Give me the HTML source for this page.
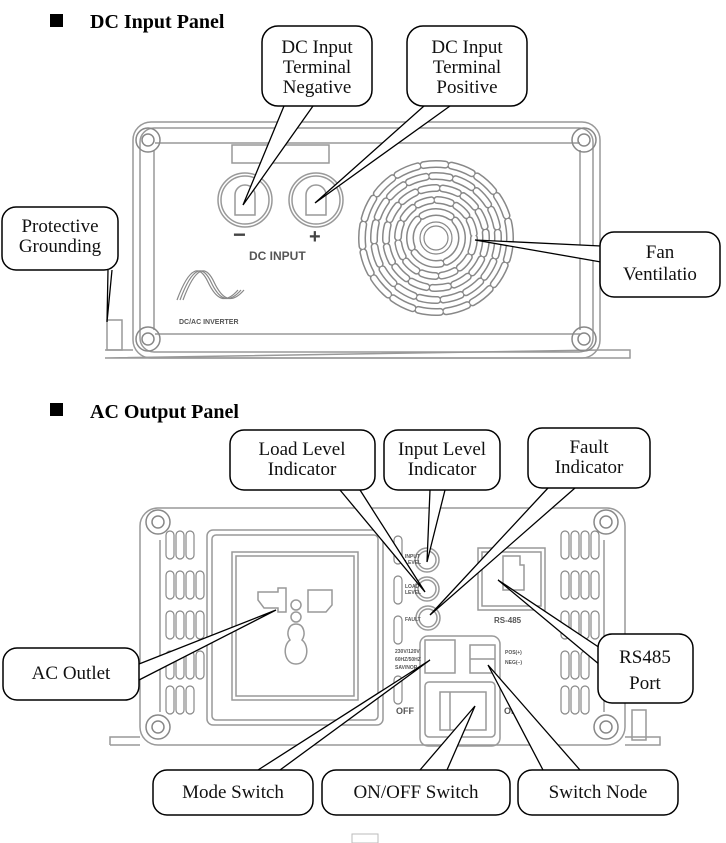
<!DOCTYPE html>
<html><head><meta charset="utf-8"><style>
html,body{margin:0;padding:0;background:#fff;}
svg{display:block;}
.t{font-family:"Liberation Serif",serif;font-size:19px;fill:#111;}
.h{font-family:"Liberation Serif",serif;font-size:20px;font-weight:bold;fill:#000;}
.s{font-family:"Liberation Sans",sans-serif;font-weight:bold;fill:#555;}
</style></head><body>
<svg width="726" height="843" viewBox="0 0 726 843" xmlns="http://www.w3.org/2000/svg">
<defs>
<g id="screw"><circle r="12" fill="none" stroke="#888" stroke-width="1.5"/><circle r="6" fill="none" stroke="#888" stroke-width="1.5"/></g>
<g id="pill"><rect x="-4" y="-14" width="8" height="28" rx="4" fill="none" stroke="#888" stroke-width="1.2"/></g>
</defs>
<rect x="50" y="14" width="13" height="13" fill="#000"/>
<text class="h" x="90" y="28">DC Input Panel</text>
<rect x="50" y="403" width="13" height="13" fill="#000"/>
<text class="h" x="90" y="418">AC Output Panel</text>

<g fill="none" stroke="#999" stroke-width="1.5">
<rect x="133" y="122" width="467" height="236" rx="18"/>
<rect x="140" y="128" width="453" height="224" rx="14"/>
<line x1="155" y1="143" x2="580" y2="143"/>
<line x1="155" y1="334" x2="580" y2="334"/>
<line x1="154" y1="150" x2="154" y2="330"/>
<line x1="580" y1="150" x2="580" y2="330"/>
<rect x="232" y="145" width="97" height="18"/>
<circle cx="245" cy="200" r="27"/><circle cx="245" cy="200" r="24"/>
<circle cx="316" cy="200" r="27"/><circle cx="316" cy="200" r="24"/>
<path d="M235 215 V195 a10 10 0 0 1 20 0 V215 Z"/>
<path d="M306 215 V195 a10 10 0 0 1 20 0 V215 Z"/>
<rect x="107" y="320" width="15" height="30"/>
<path d="M105 350 H133 M600 350 H630 V358 H105 Z"/>
</g>
<use href="#screw" x="148" y="140"/><use href="#screw" x="584" y="140"/>
<use href="#screw" x="148" y="339"/><use href="#screw" x="584" y="339"/>
<text x="233" y="242" font-family="Liberation Sans" font-size="22" font-weight="bold" fill="#444">−</text>
<text x="309" y="243" font-family="Liberation Sans" font-size="20" font-weight="bold" fill="#444">+</text>
<text class="s" x="249" y="260" font-size="12">DC INPUT</text>
<g fill="none" stroke="#888" stroke-width="1.2">
<path d="M177 300 C190 265 200 265 208 282 S225 305 238 290"/>
<path d="M180 300 C193 265 203 265 211 282 S228 305 241 290"/>
<path d="M183 300 C196 265 206 265 214 282 S231 305 244 290"/>
</g>
<text class="s" x="179" y="324" font-size="7">DC/AC INVERTER</text>

<g fill="none" stroke-linecap="round">
<g stroke="#888" stroke-width="8">
<circle cx="436" cy="238" r="74" stroke-dasharray="22 6"/>
<circle cx="436" cy="238" r="62" stroke-dasharray="18 6"/>
<circle cx="436" cy="238" r="50" stroke-dasharray="16 6"/>
<circle cx="436" cy="238" r="38" stroke-dasharray="14 6"/>
<circle cx="436" cy="238" r="26" stroke-dasharray="30 6"/>
</g>
<g stroke="#fff" stroke-width="5">
<circle cx="436" cy="238" r="74" stroke-dasharray="22 6"/>
<circle cx="436" cy="238" r="62" stroke-dasharray="18 6"/>
<circle cx="436" cy="238" r="50" stroke-dasharray="16 6"/>
<circle cx="436" cy="238" r="38" stroke-dasharray="14 6"/>
<circle cx="436" cy="238" r="26" stroke-dasharray="30 6"/>
</g>
<circle cx="436" cy="238" r="16" stroke="#888" stroke-width="1.2"/>
<circle cx="436" cy="238" r="12" stroke="#888" stroke-width="1.2"/>
</g>

<g fill="none" stroke="#999" stroke-width="1.5">
<rect x="140" y="508" width="485" height="237" rx="18"/>
<line x1="160" y1="540" x2="160" y2="712"/>
<line x1="604" y1="540" x2="604" y2="712"/>
<path d="M110 745 H140 M625 745 H660 V737 H625"/>
<path d="M110 745 V737 H140"/>
<rect x="632" y="710" width="14" height="30"/>
<rect x="207" y="530" width="176" height="195" rx="6"/>
<rect x="212" y="535" width="166" height="185" rx="4"/>
<rect x="232" y="552" width="126" height="148"/>
<rect x="236" y="556" width="118" height="140"/>
<path d="M258 592 H278 V588 H286 V612 H278 V608 H264 L258 600 Z"/>
<path d="M308 590 H332 V605 L326 612 H308 Z"/>
<circle cx="296" cy="605" r="5"/><circle cx="296" cy="617" r="5"/>
<path d="M296 624 c-8 0-10 10-6 16 c-8 6-6 24 6 24 c12 0 14-18 6-24 c4-6 2-16-6-16Z"/>
<circle cx="427" cy="560" r="12"/><circle cx="427" cy="560" r="9"/>
<circle cx="427" cy="589" r="12"/><circle cx="427" cy="589" r="9"/>
<circle cx="428" cy="618" r="12"/><circle cx="428" cy="618" r="9"/>
<rect x="478" y="548" width="67" height="62"/>
<rect x="482" y="552" width="59" height="54"/>
<path d="M503 556 H520 V565 H524 V590 H503 Z"/>
<rect x="420" y="636" width="80" height="110" rx="8"/>
<rect x="425" y="640" width="30" height="33"/>
<rect x="470" y="645" width="25" height="28"/>
<line x1="470" y1="659" x2="495" y2="659"/>
<rect x="425" y="682" width="70" height="55" rx="4"/>
<rect x="440" y="692" width="46" height="38"/>
<line x1="450" y1="692" x2="450" y2="730"/>
</g>
<use href="#screw" x="158" y="522"/><use href="#screw" x="606" y="522"/>
<use href="#screw" x="158" y="727"/><use href="#screw" x="606" y="727"/>
<g>
<use href="#pill" x="170" y="545"/><use href="#pill" x="180" y="545"/><use href="#pill" x="190" y="545"/>
<use href="#pill" x="170" y="585"/><use href="#pill" x="180" y="585"/><use href="#pill" x="190" y="585"/><use href="#pill" x="200" y="585"/>
<use href="#pill" x="170" y="625"/><use href="#pill" x="180" y="625"/><use href="#pill" x="190" y="625"/><use href="#pill" x="200" y="625"/>
<use href="#pill" x="170" y="665"/><use href="#pill" x="180" y="665"/><use href="#pill" x="190" y="665"/><use href="#pill" x="200" y="665"/>
<use href="#pill" x="170" y="700"/><use href="#pill" x="180" y="700"/><use href="#pill" x="190" y="700"/>
<use href="#pill" x="565" y="545"/><use href="#pill" x="575" y="545"/><use href="#pill" x="585" y="545"/><use href="#pill" x="595" y="545"/>
<use href="#pill" x="565" y="585"/><use href="#pill" x="575" y="585"/><use href="#pill" x="585" y="585"/><use href="#pill" x="595" y="585"/>
<use href="#pill" x="565" y="625"/><use href="#pill" x="575" y="625"/><use href="#pill" x="585" y="625"/><use href="#pill" x="595" y="625"/>
<use href="#pill" x="565" y="665"/><use href="#pill" x="575" y="665"/><use href="#pill" x="585" y="665"/>
<use href="#pill" x="565" y="700"/><use href="#pill" x="575" y="700"/><use href="#pill" x="585" y="700"/>
<use href="#pill" x="398" y="550"/><use href="#pill" x="398" y="590"/><use href="#pill" x="398" y="630"/><use href="#pill" x="398" y="690"/>
</g>
<g class="s" font-size="5">
<text x="405" y="558">INPUT</text><text x="405" y="564">LEVEL</text>
<text x="405" y="588">LOAD</text><text x="405" y="594">LEVEL</text>
<text x="405" y="621">FAULT</text>
<text x="395" y="653">230V/120V</text><text x="395" y="661">60HZ/50HZ</text><text x="395" y="669">SAV/NOR</text>
<text x="505" y="654">POS(+)</text><text x="505" y="664">NEG(−)</text>
</g>
<text class="s" x="494" y="623" font-size="8">RS-485</text>
<text class="s" x="396" y="714" font-size="9">OFF</text>
<text class="s" x="504" y="714" font-size="9">ON</text>
<rect x="352" y="834" width="26" height="9" fill="none" stroke="#bbb"/>

<g fill="#fff" stroke="#000" stroke-width="1.3">
<path d="M284 106 L243 205 L313 106"/>
<path d="M424 106 L315 203 L450 106"/>
<path d="M108 270 L107 322 L112 270"/>
<path d="M601 246 L475 240 L601 262"/>
<path d="M340 490 L425 592 L360 490"/>
<path d="M430 490 L427 562 L445 490"/>
<path d="M548 488 L430 615 L575 488"/>
<path d="M139 664 L276 610 L139 680"/>
<path d="M600 648 L498 580 L600 665"/>
<path d="M258 770 L430 660 L280 770"/>
<path d="M420 770 L475 706 L447 770"/>
<path d="M543 770 L488 665 L580 770"/>
</g>
<g fill="#fff" stroke="#000" stroke-width="1.5">
<rect x="262" y="26" width="110" height="80" rx="16"/>
<rect x="407" y="26" width="120" height="80" rx="16"/>
<rect x="2" y="207" width="116" height="63" rx="14"/>
<rect x="600" y="232" width="120" height="65" rx="14"/>
<rect x="230" y="430" width="145" height="60" rx="14"/>
<rect x="384" y="430" width="116" height="60" rx="14"/>
<rect x="528" y="428" width="122" height="60" rx="14"/>
<rect x="3" y="648" width="136" height="52" rx="14"/>
<rect x="598" y="634" width="95" height="69" rx="14"/>
<rect x="153" y="770" width="160" height="45" rx="14"/>
<rect x="322" y="770" width="188" height="45" rx="14"/>
<rect x="518" y="770" width="160" height="45" rx="14"/>
</g>
<g class="t" text-anchor="middle">
<text x="317" y="53">DC Input</text><text x="317" y="73">Terminal</text><text x="317" y="93">Negative</text>
<text x="467" y="53">DC Input</text><text x="467" y="73">Terminal</text><text x="467" y="93">Positive</text>
<text x="60" y="232">Protective</text><text x="60" y="252">Grounding</text>
<text x="660" y="258">Fan</text><text x="660" y="280">Ventilatio</text>
<text x="302" y="455">Load Level</text><text x="302" y="475">Indicator</text>
<text x="442" y="455">Input Level</text><text x="442" y="475">Indicator</text>
<text x="589" y="453">Fault</text><text x="589" y="473">Indicator</text>
<text x="71" y="679">AC Outlet</text>
<text x="645" y="663">RS485</text><text x="645" y="689">Port</text>
<text x="233" y="798">Mode Switch</text>
<text x="416" y="798">ON/OFF Switch</text>
<text x="598" y="798">Switch Node</text>
</g>
</svg>
</body></html>
